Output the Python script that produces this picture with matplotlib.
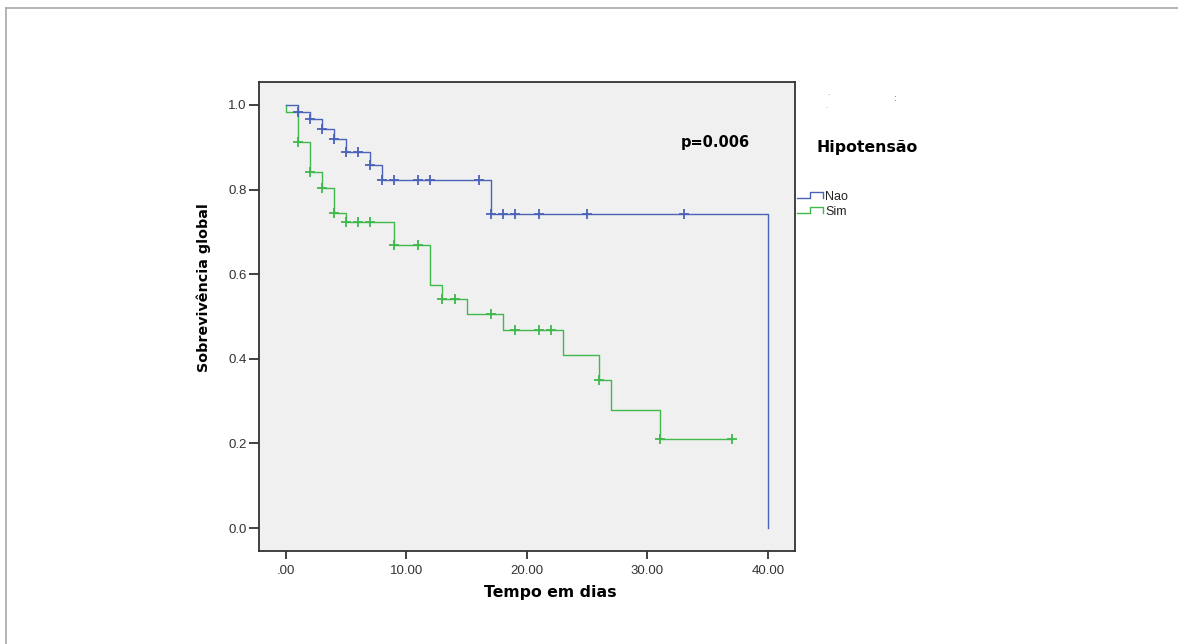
import numpy as np
import matplotlib
matplotlib.use("Agg")
from matplotlib import pyplot as plt
from matplotlib.lines import Line2D

# Kaplan-Meier steps
nao_t = [0, 1, 2, 3, 4, 5, 7, 8, 17, 40]
nao_s = [1.0, 0.983, 0.966, 0.944, 0.919, 0.889, 0.858, 0.822, 0.741, 0.0]
nao_cens = [1, 2, 3, 4, 5, 6, 7, 8, 9, 11, 12, 16, 17, 18, 19, 21, 25, 33]

sim_t = [0, 0, 1, 2, 3, 4, 5, 9, 12, 13, 15, 18, 23, 26, 27, 31, 37]
sim_s = [1.0, 0.983, 0.912, 0.841, 0.804, 0.745, 0.723, 0.670, 0.574, 0.541,
         0.505, 0.467, 0.408, 0.350, 0.280, 0.210, 0.210]
sim_cens = [1, 2, 3, 4, 5, 6, 7, 9, 11, 13, 14, 17, 19, 21, 22, 26, 31, 37]

xticks = [0, 10, 20, 30, 40]
xtick_labels = [".00", "10.00", "20.00", "30.00", "40.00"]
yticks = [0.0, 0.2, 0.4, 0.6, 0.8, 1.0]
ytick_labels = ["0.0", "0.2", "0.4", "0.6", "0.8", "1.0"]
groups = ["Nao", "Sim"]

BLUE = "#4a62b8"
GREEN = "#3fb84c"
W, H = 1178, 644


def surv_at(t, times, surv):
    i = np.searchsorted(times, t, side="right") - 1
    return np.array(surv)[i]


fig = plt.figure(figsize=(W / 100, H / 100), dpi=100)
fig.patch.set_facecolor("white")

ax = fig.add_axes([259 / W, 1 - 551 / H, (795 - 259) / W, (551 - 82) / H])
ax.set_facecolor("#f0f0f0")

ax.step(sim_t, sim_s, where="post", color=GREEN, lw=1.0, zorder=2)
ax.plot(sim_cens, [surv_at(t, sim_t, sim_s) for t in sim_cens], ls="none",
        marker="+", ms=7, mew=1.3, color=GREEN, zorder=3)
ax.step(nao_t, nao_s, where="post", color=BLUE, lw=1.0, zorder=2)
ax.plot(nao_cens, [surv_at(t, nao_t, nao_s) for t in nao_cens], ls="none",
        marker="+", ms=7, mew=1.3, color=BLUE, zorder=3)

ax.set_xlim(-2.21, 42.23)
ax.set_ylim(-0.054, 1.054)
ax.set_xticks(xticks)
ax.set_xticklabels(xtick_labels)
ax.set_yticks(yticks)
ax.set_yticklabels(ytick_labels)
for lab in ax.get_xticklabels() + ax.get_yticklabels():
    lab.set_fontfamily("Liberation Sans")
    lab.set_fontsize(9.5)
    lab.set_color("#333333")
ax.tick_params(axis="y", direction="out", length=7, width=1.3, color="#333333", pad=2)
ax.tick_params(axis="x", direction="out", length=6, width=1.3, color="#333333", pad=4)
for sp in ax.spines.values():
    sp.set_color("#333333")
    sp.set_linewidth(1.3)

# overlay in pixel coordinates for labels, legend and frame
ov = fig.add_axes([0, 0, 1, 1], zorder=5)
ov.set_xlim(0, W)
ov.set_ylim(H, 0)
ov.axis("off")
ov.patch.set_visible(False)

ov.plot([6, W], [8, 8], color="#a8a8a8", lw=1.2)
ov.plot([6, 6], [8, H], color="#a8a8a8", lw=1.2)

bold = dict(family="DejaVu Sans", fontweight="bold", color="black")
ov.text(550, 593, "Tempo em dias", ha="center", va="center", fontsize=11.3, **bold)
ov.text(204, 288, "Sobrevivência global", ha="center", va="center",
        rotation=90, fontsize=10.3, **bold)
ov.text(715, 142, "p=0.006", ha="center", va="center", fontsize=10.5, **bold)
ov.text(867, 147, "Hipotensão", ha="center", va="center", fontsize=11.3, **bold)

# legend with SPSS style step glyphs
for i, (name, col) in enumerate(zip(groups, [BLUE, GREEN])):
    yb = 198 + i * 14.5
    ov.add_line(Line2D([797, 810, 810, 823, 823], [yb, yb, yb - 6, yb - 6, yb],
                       color=col, lw=1.0))
    ov.text(825, yb - 1, name, ha="left", va="center", fontsize=9,
            family="Liberation Sans", color="#222222")

# small stray dots in the original
ov.text(828, 93, ".", fontsize=5, color="#777777", ha="center", va="center")
ov.text(826, 106, ".", fontsize=5, color="#999999", ha="center", va="center")
ov.text(895, 98, ":", fontsize=6, color="#555555", ha="center", va="center")

fig.savefig("out.png", dpi=100)
